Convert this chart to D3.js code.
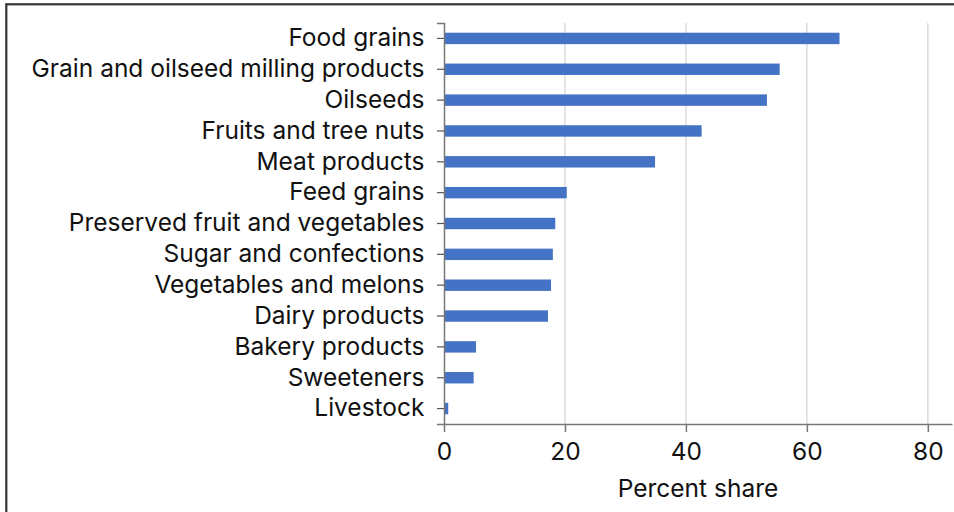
<!DOCTYPE html>
<html>
<head>
<meta charset="utf-8">
<script src="https://cdn.jsdelivr.net/npm/d3@7"></script>
<style>
  html, body { margin: 0; padding: 0; background: #fff; }
  svg { display: block; }
  text { font-family: Inter, Roboto, sans-serif; fill: #111; }
</style>
</head>
<body>
<svg id="chart" width="954" height="512"></svg>
<script>
// Share of U.S. agricultural output by commodity group (percent)
const categories = [
  "Food grains",
  "Grain and oilseed milling products",
  "Oilseeds",
  "Fruits and tree nuts",
  "Meat products",
  "Feed grains",
  "Preserved fruit and vegetables",
  "Sugar and confections",
  "Vegetables and melons",
  "Dairy products",
  "Bakery products",
  "Sweeteners",
  "Livestock"
];
const shares = [65.4, 55.5, 53.4, 42.6, 34.9, 20.3, 18.4, 18.0, 17.7, 17.2, 5.3, 4.9, 0.7];
const xTicks = [0, 20, 40, 60, 80];
const xTitle = "Percent share";

const FONT = "Inter, Roboto, sans-serif";
const FONT_SIZE = 24.5;
const svg = d3.select("#chart");
const plot = { left: 444, right: 952, top: 23, bottom: 424 };

// Outer frame
svg.append("rect")
  .attr("x", 6.3).attr("y", 4.3)
  .attr("width", 1000).attr("height", 600)
  .attr("fill", "none")
  .attr("stroke", "#333")
  .attr("stroke-width", 2.2);

const x = d3.scaleLinear().domain([0, 84]).range([plot.left, plot.right]);
const y = d3.scaleBand().domain(categories).range([plot.top, plot.bottom])
  .paddingInner(0.63).paddingOuter(0.315);

// Vertical gridlines
svg.append("g")
  .selectAll("line")
  .data(xTicks.filter(d => d > 0))
  .join("line")
  .attr("x1", d => x(d)).attr("x2", d => x(d))
  .attr("y1", plot.top).attr("y2", plot.bottom)
  .attr("stroke", "#dcdcdc")
  .attr("stroke-width", 1.5);

// Bars
svg.append("g")
  .selectAll("rect")
  .data(categories.map((c, i) => ({ c, v: shares[i] })))
  .join("rect")
  .attr("x", x(0))
  .attr("y", d => y(d.c))
  .attr("width", d => x(d.v) - x(0))
  .attr("height", y.bandwidth())
  .attr("fill", "#4472c4");

// Category axis
const yAxis = svg.append("g")
  .attr("transform", `translate(${plot.left},0)`)
  .call(d3.axisLeft(y).tickSize(7).tickPadding(12.5));
yAxis.select(".domain").attr("stroke", "#777").attr("stroke-width", 1.5);
yAxis.selectAll(".tick line").attr("stroke", "#555").attr("stroke-width", 1.2);
yAxis.selectAll("text")
  .attr("font-size", FONT_SIZE)
  .attr("font-family", FONT)
  .attr("fill", "#111");

// Value axis
const xAxis = svg.append("g")
  .attr("transform", `translate(0,${plot.bottom})`)
  .call(d3.axisBottom(x).tickValues(xTicks).tickSize(8).tickPadding(11).tickSizeOuter(0));
xAxis.select(".domain").attr("stroke", "#777").attr("stroke-width", 1.5);
xAxis.selectAll(".tick line").attr("stroke", "#777").attr("stroke-width", 1.5);
xAxis.selectAll("text")
  .attr("font-size", FONT_SIZE)
  .attr("font-family", FONT)
  .attr("fill", "#111");

// Axis title
svg.append("text")
  .attr("x", (plot.left + plot.right) / 2)
  .attr("y", 497)
  .attr("text-anchor", "middle")
  .attr("font-size", FONT_SIZE)
  .attr("font-family", FONT)
  .text(xTitle);
</script>
</body>
</html>
